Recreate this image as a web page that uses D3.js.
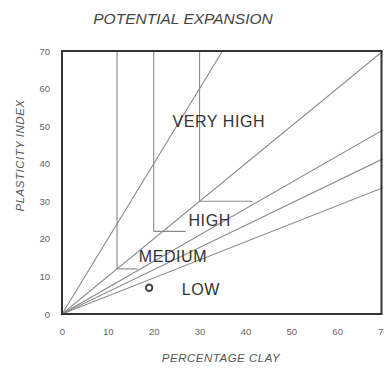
<!DOCTYPE html>
<html>
<head>
<meta charset="utf-8">
<script src="https://cdn.jsdelivr.net/npm/d3@7"></script>
<style>
  html, body { margin: 0; padding: 0; background: #fff; }
  svg { display: block; }
</style>
</head>
<body>
<svg id="chart" width="384" height="370"></svg>
<script>
// Axis ticks
const xTicks = [0, 10, 20, 30, 40, 50, 60, 70];
const yTicks = [0, 10, 20, 30, 40, 50, 60, 70];

// Activity lines through the origin (PI / % clay)
const activitySlopes = [2.0, 1.0, 0.7, 0.59, 0.48];

// Zone limits: vertical clay limits down to the step level,
// then a horizontal run to the right
const clayLimits = [12, 20, 30];
const stepPI = [12, 22, 30];
const stepEndClay = [16.5, 27, 41.5];

// Zone names and their label positions (clay %, PI)
const zoneNames = ["VERY HIGH", "HIGH", "MEDIUM", "LOW"];
const zoneX = [34.2, 32.2, 24.2, 30.3];
const zoneY = [51.3, 25.0, 15.4, 6.4];

// Sample point
const sampleClay = [19];
const samplePI = [7];

const svg = d3.select("#chart");
const x = d3.scaleLinear().domain([0, 70]).range([62, 383]);
const y = d3.scaleLinear().domain([0, 70]).range([314, 51]);

const lineColor = "#8a8a8a";
const textColor = "#333";
const font = "Liberation Sans, Arial, sans-serif";

// Title
svg.append("text")
  .attr("x", 183).attr("y", 24)
  .attr("text-anchor", "middle")
  .attr("font-family", font)
  .attr("font-style", "italic")
  .attr("font-size", 15.5)
  .attr("fill", "#444")
  .text("POTENTIAL EXPANSION");

// Clip region for everything inside the frame
svg.append("clipPath").attr("id", "plot")
  .append("rect")
  .attr("x", x(0)).attr("y", y(70))
  .attr("width", x(70) - x(0)).attr("height", y(0) - y(70));

const g = svg.append("g").attr("clip-path", "url(#plot)");

// Activity lines
g.selectAll("line.act").data(activitySlopes).enter().append("line")
  .attr("class", "act")
  .attr("x1", x(0)).attr("y1", y(0))
  .attr("x2", d => x(Math.min(70, 70 / d)))
  .attr("y2", d => y(Math.min(70, 70 * d)))
  .attr("stroke", lineColor).attr("stroke-width", 1.1);

// Vertical clay limits
g.selectAll("line.vert").data(clayLimits).enter().append("line")
  .attr("class", "vert")
  .attr("x1", d => x(d)).attr("x2", d => x(d))
  .attr("y1", y(70))
  .attr("y2", (d, i) => y(stepPI[i]))
  .attr("stroke", lineColor).attr("stroke-width", 1.1);

// Horizontal steps
g.selectAll("line.step").data(stepPI).enter().append("line")
  .attr("class", "step")
  .attr("x1", (d, i) => x(clayLimits[i]))
  .attr("x2", (d, i) => x(stepEndClay[i]))
  .attr("y1", d => y(d)).attr("y2", d => y(d))
  .attr("stroke", lineColor).attr("stroke-width", 1.1);

// Zone labels
g.selectAll("text.zone").data(zoneNames).enter().append("text")
  .attr("class", "zone")
  .attr("x", (d, i) => x(zoneX[i]))
  .attr("y", (d, i) => y(zoneY[i]))
  .attr("text-anchor", "middle")
  .attr("dominant-baseline", "central")
  .attr("font-family", font)
  .attr("font-size", 16)
  .attr("letter-spacing", 0.6)
  .attr("fill", textColor)
  .text(d => d);

// Sample point
g.selectAll("circle.pt").data(sampleClay).enter().append("circle")
  .attr("class", "pt")
  .attr("cx", d => x(d))
  .attr("cy", (d, i) => y(samplePI[i]))
  .attr("r", 3.2)
  .attr("fill", "none")
  .attr("stroke", "#444").attr("stroke-width", 2);

// Frame
svg.append("rect")
  .attr("x", x(0)).attr("y", y(70))
  .attr("width", x(70) - x(0) - 1.5).attr("height", y(0) - y(70))
  .attr("fill", "none")
  .attr("stroke", "#333").attr("stroke-width", 2);

// Axes (labels only; frame drawn above)
const xAxis = svg.append("g")
  .attr("transform", `translate(0,${y(0)})`)
  .call(d3.axisBottom(x).tickValues(xTicks).tickSize(0).tickPadding(14));
const yAxis = svg.append("g")
  .attr("transform", `translate(${x(0)},0)`)
  .call(d3.axisLeft(y).tickValues(yTicks).tickSize(0).tickPadding(12));
[xAxis, yAxis].forEach(a => {
  a.select(".domain").remove();
  a.selectAll("text")
    .attr("font-family", font)
    .attr("font-size", 9.5)
    .attr("fill", "#666");
});

// Axis titles
svg.append("text")
  .attr("x", 221).attr("y", 362)
  .attr("text-anchor", "middle")
  .attr("font-family", font)
  .attr("font-style", "italic")
  .attr("font-size", 11.5)
  .attr("letter-spacing", 0.5)
  .attr("fill", "#555")
  .text("PERCENTAGE CLAY");

svg.append("text")
  .attr("transform", `translate(24,${(y(0) + y(70)) / 2 - 27}) rotate(-90)`)
  .attr("text-anchor", "middle")
  .attr("font-family", font)
  .attr("font-style", "italic")
  .attr("font-size", 11.5)
  .attr("letter-spacing", 0.5)
  .attr("fill", "#555")
  .text("PLASTICITY INDEX");
</script>
</body>
</html>
